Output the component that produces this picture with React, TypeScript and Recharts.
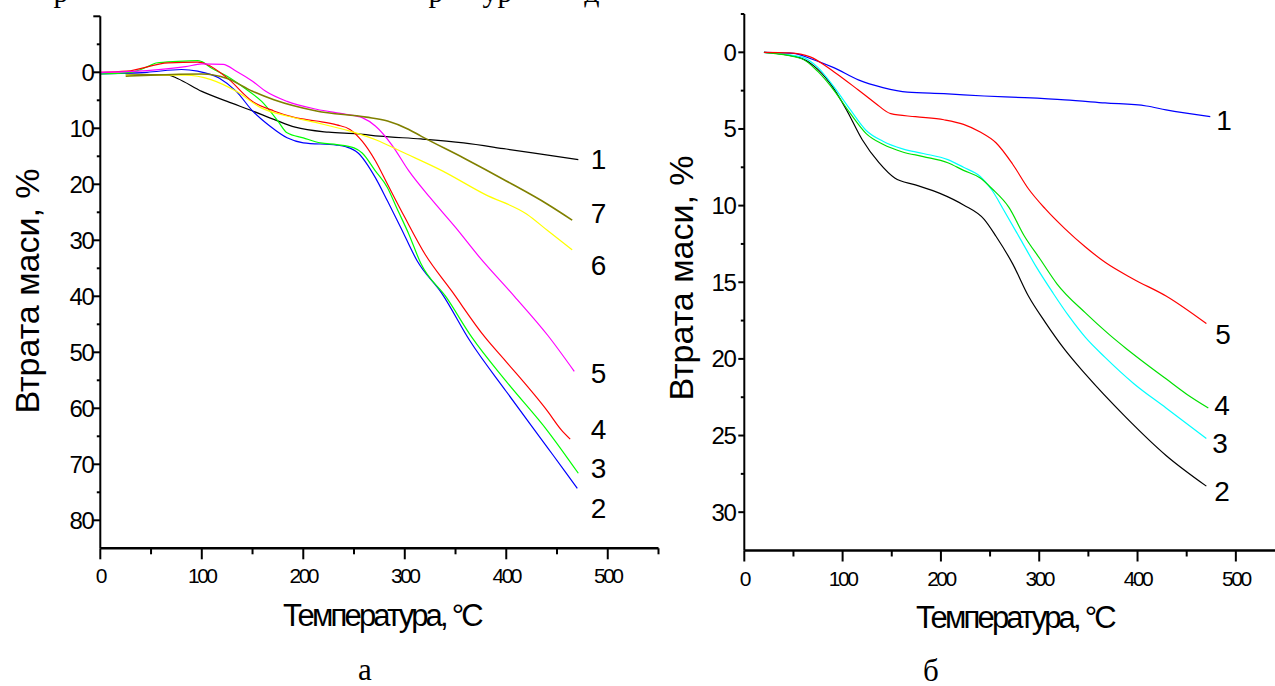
import React from 'react';
import { LineChart, Line, XAxis, YAxis, ReferenceDot, Label } from 'recharts';

type P = [number, number];

// ---------- Chart (а) ----------
const curveA1: P[] = [[25,0.3],[50,0.4],[67,0.5],[76,1.1],[100,3.4],[125,5.2],[150,6.9],[171,8.4],[192,9.8],[225,10.7],[254,11.0],[275,11.4],[316,11.9],[358,12.6],[400,13.7],[441,14.8],[471,15.6]];
const curveA2: P[] = [[0,0.3],[20,0.2],[46,0],[80,-0.5],[96,-0.2],[117,1.0],[134,3.4],[150,6.9],[167,9.6],[184,11.7],[200,12.6],[233,13.0],[242,13.3],[254,14.4],[271,18.8],[283,23.0],[296,27.7],[312,33.6],[337,39.6],[364,47.9],[400,57.0],[441,67.1],[458,71.3],[470,74.3]];
const curveA3: P[] = [[0,0.3],[30,0],[49,-1.2],[55,-1.66],[76,-1.96],[96,-2.1],[100,-1.9],[109,-0.8],[125,0.7],[142,2.8],[159,5.2],[175,8.7],[184,10.8],[200,11.7],[217,12.6],[233,12.9],[250,13.5],[258,14.4],[271,17.6],[283,20.6],[292,24.2],[304,28.9],[316,34.2],[341,40.2],[366,47.3],[400,55.2],[441,64.1],[471,71.6]];
const curveA4: P[] = [[0,0],[26,-0.2],[67,-1.7],[96,-1.8],[105,-1.4],[125,1.0],[150,5.2],[171,6.9],[192,8.1],[213,8.7],[233,9.4],[246,10.2],[258,12.3],[271,15.8],[283,20.0],[300,25.9],[320,32.5],[346,39.0],[379,47.3],[400,51.7],[441,60.6],[454,63.8],[463,65.5]];
const curveA5: P[] = [[0,0],[46,-0.3],[84,-1.0],[100,-1.5],[121,-1.4],[134,-0.2],[150,1.6],[163,3.4],[184,5.2],[213,6.6],[242,7.5],[258,8.1],[271,9.6],[287,12.9],[304,17.6],[325,22.4],[350,27.7],[374,33.1],[408,40.0],[441,47.0],[467,53.4]];
const curveA6: P[] = [[25,0.5],[50,0.5],[84,0.5],[109,1.3],[134,3.4],[159,6.4],[184,7.8],[213,9.0],[246,10.5],[275,12.3],[296,14.1],[337,17.6],[379,21.8],[420,25.3],[441,28.3],[465,31.7]];
const curveA7: P[] = [[25,0.7],[50,0.5],[100,0.3],[125,1.1],[150,3.4],[171,4.9],[213,6.9],[262,8.0],[283,8.7],[304,10.2],[316,11.4],[358,15.3],[400,19.4],[441,23.6],[465,26.4]];

const seriesA = [curveA1, curveA2, curveA3, curveA4, curveA5, curveA6, curveA7];
const colorsA = ['#000000', '#0000ff', '#00ff00', '#ff0000', '#ff00ff', '#ffff00', '#808000'];
const namesA = ['1', '2', '3', '4', '5', '6', '7'];
const labelXA = [491, 491, 491, 491, 491, 491, 491];
const labelYA = [15.5, 77.9, 70.6, 63.75, 53.7, 34.4, 25.2];

const yMajorA = [-10, 0, 10, 20, 30, 40, 50, 60, 70, 80];
const yMinorA = [-5, 5, 15, 25, 35, 45, 55, 65, 75];
const yLabelsA = [0, 10, 20, 30, 40, 50, 60, 70, 80];

// ---------- Chart (б) ----------
const curveB1: P[] = [[20,0],[50,0.07],[67,0.4],[91,1.0],[116,1.8],[141,2.3],[166,2.6],[203,2.7],[244,2.85],[285,2.96],[326,3.1],[367,3.3],[409,3.5],[429,3.76],[474,4.2]];
const curveB2: P[] = [[20,0],[54,0.3],[71,0.9],[87,2.0],[104,3.76],[120,5.7],[137,7.2],[153,8.2],[174,8.65],[199,9.2],[223,9.96],[244,10.9],[256,12.0],[273,13.8],[289,15.9],[306,17.6],[326,19.4],[347,21.0],[388,23.8],[429,26.3],[470,28.3]];
const curveB3: P[] = [[20,0],[58,0.3],[75,1.0],[91,2.24],[108,3.76],[124,5.1],[141,5.8],[161,6.3],[182,6.6],[207,7.0],[223,7.5],[240,8.1],[252,9.0],[264,10.3],[281,12.2],[297,14.0],[314,15.7],[330,17.2],[347,18.6],[367,19.9],[396,21.6],[429,23.2],[470,25.2]];
const curveB4: P[] = [[20,0],[58,0.4],[75,1.26],[91,2.46],[108,4.0],[124,5.3],[141,6.0],[161,6.5],[182,6.8],[207,7.2],[223,7.7],[240,8.2],[252,8.9],[269,10.1],[285,12.0],[301,13.5],[318,15.1],[347,17.0],[371,18.4],[388,19.3],[404,20.1],[429,21.3],[450,22.3],[472,23.2]];
const curveB5: P[] = [[20,0],[46,0.04],[67,0.3],[91,1.26],[116,2.46],[133,3.3],[149,4.0],[174,4.2],[203,4.4],[223,4.7],[240,5.2],[256,5.9],[273,7.3],[289,8.9],[306,10.2],[326,11.5],[347,12.7],[367,13.7],[396,14.8],[429,15.9],[470,17.7]];

const seriesB = [curveB1, curveB2, curveB3, curveB4, curveB5];
const colorsB = ['#0000ff', '#000000', '#00ffff', '#00e000', '#ff0000'];
const namesB = ['1', '2', '3', '4', '5'];
const labelXB = [488, 486, 484, 486, 487];
const labelYB = [4.4, 28.6, 25.5, 23.0, 18.4];

const yMajorB = [0, 5, 10, 15, 20, 25, 30];
const yMinorB = [-2.5, 2.5, 7.5, 12.5, 17.5, 22.5, 27.5];
const yLabelsB = [0, 5, 10, 15, 20, 25, 30];

// ---------- shared ----------
const xMajor = [0, 100, 200, 300, 400, 500];
const xMinor = [50, 150, 250, 350, 450, 550];
const xLabels = [0, 100, 200, 300, 400, 500];

const yTitle = 'Втрата маси, %';
const xTitle = 'Температура, °C';

const SANS = '"Liberation Sans", Arial, sans-serif';
const SERIF = '"Liberation Serif", "Times New Roman", serif';

const toRows = (pts: P[]) => pts.map(([x, y]) => ({ x, y }));

const XTick = (props: any) => {
  const { x, y, payload } = props;
  const v = payload.value;
  const major = xMajor.includes(v);
  return (
    <g>
      <line x1={x} y1={y} x2={x} y2={y + (major ? 11 : 6)} stroke="#000" strokeWidth={2} />
      {xLabels.includes(v) && (
        <text x={x} y={y + 35} textAnchor="middle" fontFamily={SANS} fontSize={21} letterSpacing={-2.5} fill="#000">
          {v}
        </text>
      )}
    </g>
  );
};

const makeYTick = (majors: number[], labels: number[], majorLen: number, gap: number) => (props: any) => {
  const { x, y, payload } = props;
  const v = payload.value;
  const major = majors.includes(v);
  return (
    <g>
      <line x1={x} y1={y} x2={x - (major ? majorLen : 3.5)} y2={y} stroke="#000" strokeWidth={2} />
      {labels.includes(v) && (
        <text x={x - gap} y={y} dy="0.35em" textAnchor="end" fontFamily={SANS} fontSize={24} letterSpacing={-1.5} fill="#000">
          {v}
        </text>
      )}
    </g>
  );
};

const YTickA = makeYTick(yMajorA, yLabelsA, 7, 7);
const YTickB = makeYTick(yMajorB, yLabelsB, 6, 9);

const numLabel = (value: string) => ({
  value,
  position: 'center' as const,
  fontSize: 28,
  fill: '#000',
  fontFamily: SANS,
});

export default function App() {
  return (
    <div style={{ position: 'absolute', left: 0, top: 0, width: 1275, height: 686, overflow: 'hidden', background: '#fff' }}>
      {/* Chart а */}
      <div style={{ position: 'absolute', left: 0, top: 0 }}>
        <LineChart width={662} height={686} margin={{ top: 16.3, right: 3.5, bottom: 0, left: 0 }}>
          <XAxis
            type="number"
            dataKey="x"
            domain={[0, 550]}
            ticks={[...xMajor, ...xMinor].sort((a, b) => a - b)}
            interval={0}
            tickSize={0}
            tickMargin={0}
            tickLine={false}
            tick={<XTick />}
            axisLine={{ stroke: '#000', strokeWidth: 2.5 }}
            height={137.7}
            allowDataOverflow
          >
            <Label
              content={() => (
                <g>
                  <text x={382} y={626} textAnchor="middle" fontFamily={SANS} fontSize={31} letterSpacing={-2.8} fill="#000">{xTitle}</text>
                  <text x={365} y={680} textAnchor="middle" fontFamily={SERIF} fontSize={31} fill="#000">а</text>
                  <g fontFamily={SERIF} fontSize={30} fill="#000" textAnchor="middle">
                    <text x={61} y={2}>р</text>
                    <text x={436} y={2}>р</text>
                    <text x={490} y={2}>у</text>
                    <text x={505} y={2}>р</text>
                    <text x={592} y={2}>д</text>
                  </g>
                </g>
              )}
            />
          </XAxis>
          <YAxis
            type="number"
            domain={[-10, 85]}
            reversed
            ticks={[...yMajorA, ...yMinorA].sort((a, b) => a - b)}
            interval={0}
            tickSize={0}
            tickMargin={0}
            tickLine={false}
            tick={<YTickA />}
            axisLine={{ stroke: '#000', strokeWidth: 2 }}
            width={100.3}
            allowDataOverflow
          >
            <Label
              content={() => (
                <text
                  x={27}
                  y={291}
                  transform="rotate(-90 27 291)"
                  textAnchor="middle"
                  dominantBaseline="central"
                  fontFamily={SANS}
                  fontSize={34}
                  fill="#000"
                >
                  {yTitle}
                </text>
              )}
            />
          </YAxis>
          {seriesA.map((s, i) => (
            <Line
              key={'a' + i}
              data={toRows(s)}
              dataKey="y"
              type="monotone"
              stroke={colorsA[i]}
              strokeWidth={i === 6 ? 1.6 : 1.2}
              dot={false}
              activeDot={false}
              isAnimationActive={false}
            />
          ))}
          {namesA.map((n, i) => (
            <ReferenceDot key={'la' + i} x={labelXA[i]} y={labelYA[i]} r={0} fill="none" stroke="none" label={numLabel(n)} />
          ))}
        </LineChart>
      </div>

      {/* Chart б */}
      <div style={{ position: 'absolute', left: 640, top: 0 }}>
        <LineChart width={650} height={686} margin={{ top: 14, right: 5, bottom: 0, left: 0 }}>
          <XAxis
            type="number"
            dataKey="x"
            domain={[0, 550]}
            ticks={[...xMajor, ...xMinor].sort((a, b) => a - b)}
            interval={0}
            tickSize={0}
            tickMargin={0}
            tickLine={false}
            tick={<XTick />}
            axisLine={{ stroke: '#000', strokeWidth: 2.5 }}
            height={135.5}
            allowDataOverflow
          >
            <Label
              content={() => (
                <g>
                  <text x={375} y={628} textAnchor="middle" fontFamily={SANS} fontSize={31} letterSpacing={-2.8} fill="#000">{xTitle}</text>
                  <text x={291} y={681} textAnchor="middle" fontFamily={SERIF} fontSize={31} fill="#000">б</text>
                </g>
              )}
            />
          </XAxis>
          <YAxis
            type="number"
            domain={[-2.5, 32.5]}
            reversed
            ticks={[...yMajorB, ...yMinorB].sort((a, b) => a - b)}
            interval={0}
            tickSize={0}
            tickMargin={0}
            tickLine={false}
            tick={<YTickB />}
            axisLine={{ stroke: '#000', strokeWidth: 2 }}
            width={104.3}
            allowDataOverflow
          >
            <Label
              content={() => (
                <text
                  x={41}
                  y={278}
                  transform="rotate(-90 41 278)"
                  textAnchor="middle"
                  dominantBaseline="central"
                  fontFamily={SANS}
                  fontSize={34}
                  fill="#000"
                >
                  {yTitle}
                </text>
              )}
            />
          </YAxis>
          {seriesB.map((s, i) => (
            <Line
              key={'b' + i}
              data={toRows(s)}
              dataKey="y"
              type="monotone"
              stroke={colorsB[i]}
              strokeWidth={1.2}
              dot={false}
              activeDot={false}
              isAnimationActive={false}
            />
          ))}
          {namesB.map((n, i) => (
            <ReferenceDot key={'lb' + i} x={labelXB[i]} y={labelYB[i]} r={0} fill="none" stroke="none" label={numLabel(n)} />
          ))}
        </LineChart>
      </div>
    </div>
  );
}
